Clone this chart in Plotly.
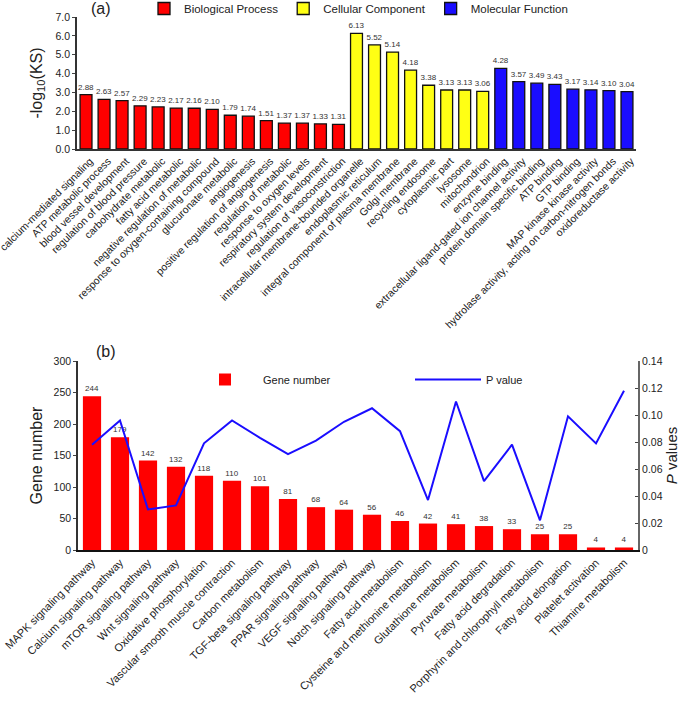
import plotly.graph_objects as go

# ---- panel (a): GO enrichment, -log10(KS) ----
bp_terms = ["calcium-mediated signaling", "ATP metabolic process", "blood vessel development",
            "regulation of blood pressure", "carbohydrate metabolic", "fatty acid metabolic",
            "negative regulation of metabolic", "response to oxygen-containing compound",
            "glucuronate metabolic", "angiogenesis", "positive regulation of angiogenesis",
            "regulation of metabolic", "response to oxygen levels",
            "respiratory system development", "regulation of vasoconstriction"]
bp_vals = [2.88, 2.63, 2.57, 2.29, 2.23, 2.17, 2.16, 2.10, 1.79, 1.74, 1.51, 1.37, 1.37, 1.33, 1.31]

cc_terms = ["intracellular membrane-bounded organelle", "endoplasmic reticulum",
            "integral component of plasma membrane", "Golgi membrane", "recycling endosome",
            "cytoplasmic part", "lysosome", "mitochondrion"]
cc_vals = [6.13, 5.52, 5.14, 4.18, 3.38, 3.13, 3.13, 3.06]

mf_terms = ["enzyme binding", "extracellular ligand-gated ion channel activity",
            "protein domain specific binding", "ATP binding", "GTP binding",
            "MAP kinase kinase activity", "hydrolase activity, acting on carbon-nitrogen bonds",
            "oxidoreductase activity"]
mf_vals = [4.28, 3.57, 3.49, 3.43, 3.17, 3.14, 3.10, 3.04]

# ---- panel (b): KEGG pathways ----
pathways = ["MAPK signaling pathway", "Calcium signaling pathway", "mTOR signaling pathway",
            "Wnt signaling pathway", "Oxidative phosphorylation",
            "Vascular smooth muscle contraction", "Carbon metabolism",
            "TGF-beta signaling pathway", "PPAR signaling pathway", "VEGF signaling pathway",
            "Notch signaling pathway", "Fatty acid metabolism",
            "Cysteine and methionine metabolism", "Glutathione metabolism",
            "Pyruvate metabolism", "Fatty acid degradation",
            "Porphyrin and chlorophyll metabolism", "Fatty acid elongation",
            "Platelet activation", "Thiamine metabolism"]
gene_number = [244, 179, 142, 132, 118, 110, 101, 81, 68, 64, 56, 46, 42, 41, 38, 33, 25, 25, 4, 4]
p_values = [0.078, 0.096, 0.030, 0.033, 0.079, 0.096, 0.083, 0.071, 0.081, 0.095,
            0.105, 0.088, 0.037, 0.110, 0.051, 0.078, 0.022, 0.099, 0.079, 0.118]

p_ticks = [0, 0.02, 0.04, 0.06, 0.08, 0.10, 0.12, 0.14]
p_ticktext = ["0", "0.02", "0.04", "0.06", "0.08", "0.10", "0.12", "0.14"]

FONT = "Liberation Sans, Arial, sans-serif"
W, H = 685, 702


def px_x(p):
    # pixel -> paper fraction
    return p / W


def px_y(p):
    return (H - p) / H


fig = go.Figure()

groups = [("Biological Process", bp_terms, bp_vals, "#ff0000"),
          ("Cellular Component", cc_terms, cc_vals, "#ffff14"),
          ("Molecular Function", mf_terms, mf_vals, "#1a0dff")]
for name, terms, vals, col in groups:
    fig.add_trace(go.Bar(
        x=terms, y=vals, name=name, xaxis="x", yaxis="y", legend="legend",
        marker=dict(color=col, line=dict(color="#111111", width=1.3)),
        width=0.66, text=vals, texttemplate="%{y:.2f}", textposition="outside",
        textfont=dict(size=8, color="#333333", family=FONT),
        constraintext="none", cliponaxis=False,
    ))

fig.add_trace(go.Bar(
    x=pathways, y=gene_number, name="Gene number", xaxis="x2", yaxis="y2", legend="legend2",
    marker=dict(color="#ff0000", line=dict(width=0)), width=0.65,
    text=gene_number, texttemplate="%{y}", textposition="outside",
    textfont=dict(size=8, color="#333333", family=FONT),
    constraintext="none", cliponaxis=False,
))
fig.add_trace(go.Scatter(
    x=pathways, y=p_values, name="P value", mode="lines", xaxis="x2", yaxis="y3",
    legend="legend2", line=dict(color="#1a0dff", width=2),
))

axis_common = dict(showgrid=False, zeroline=False, showline=True, automargin=False)

fig.update_layout(
    width=W, height=H,
    margin=dict(l=0, r=0, t=0, b=0, autoexpand=False),
    plot_bgcolor="white", paper_bgcolor="white",
    font=dict(family=FONT, color="#222222"),
    xaxis=dict(domain=[px_x(77), px_x(636)], anchor="y", tickangle=-45,
               linecolor="#333333", linewidth=2, ticks="", ticklabelshift=4,
               tickfont=dict(size=10.5, color="#222222"), **axis_common),
    yaxis=dict(domain=[px_y(149), px_y(17)], anchor="x", range=[0, 7], dtick=1,
               tickformat=".1f", linecolor="#333333", linewidth=1.5,
               ticks="outside", ticklen=3, tickfont=dict(size=10.5),
               title=dict(text="-log<sub>10</sub>(KS)", font=dict(size=16), standoff=9),
               **axis_common),
    xaxis2=dict(domain=[px_x(78), px_x(638)], anchor="y2", tickangle=-45,
                linecolor="#111111", linewidth=2, ticks="",
                tickfont=dict(size=11, color="#222222"), **axis_common),
    yaxis2=dict(domain=[px_y(550), px_y(361)], anchor="x2", range=[0, 300], dtick=50,
                linecolor="#333333", linewidth=1.5, ticks="outside", ticklen=3,
                tickfont=dict(size=10.5),
                title=dict(text="Gene number", font=dict(size=16), standoff=7),
                **axis_common),
    yaxis3=dict(overlaying="y2", anchor="x2", side="right", range=[0, 0.14],
                tickvals=p_ticks, ticktext=p_ticktext,
                linecolor="#666666", linewidth=2, ticks="inside", ticklen=3,
                tickfont=dict(size=10.5),
                title=dict(text="<i>P</i> values", font=dict(size=15), standoff=4),
                **axis_common),
    legend=dict(orientation="h", x=px_x(144), y=px_y(-6), xanchor="left", yanchor="top",
                font=dict(size=11.5), bgcolor="rgba(0,0,0,0)", itemclick=False),
    legend2=dict(orientation="h", x=px_x(187), y=px_y(365), xanchor="left", yanchor="top",
                 font=dict(size=11), bgcolor="rgba(0,0,0,0)", itemwidth=66,
                 entrywidth=142, itemclick=False),
    annotations=[
        dict(text="(a)", x=px_x(101), y=px_y(9), xref="paper", yref="paper",
             xanchor="center", yanchor="middle", showarrow=False, font=dict(size=16)),
        dict(text="(b)", x=px_x(106), y=px_y(351), xref="paper", yref="paper",
             xanchor="center", yanchor="middle", showarrow=False, font=dict(size=16)),
    ],
)

# the page body keeps an 8px default margin; drop it so the figure fills the window
fig.write_html("out.html", config={"displayModeBar": False},
               post_script="document.body.style.margin = '0';")
